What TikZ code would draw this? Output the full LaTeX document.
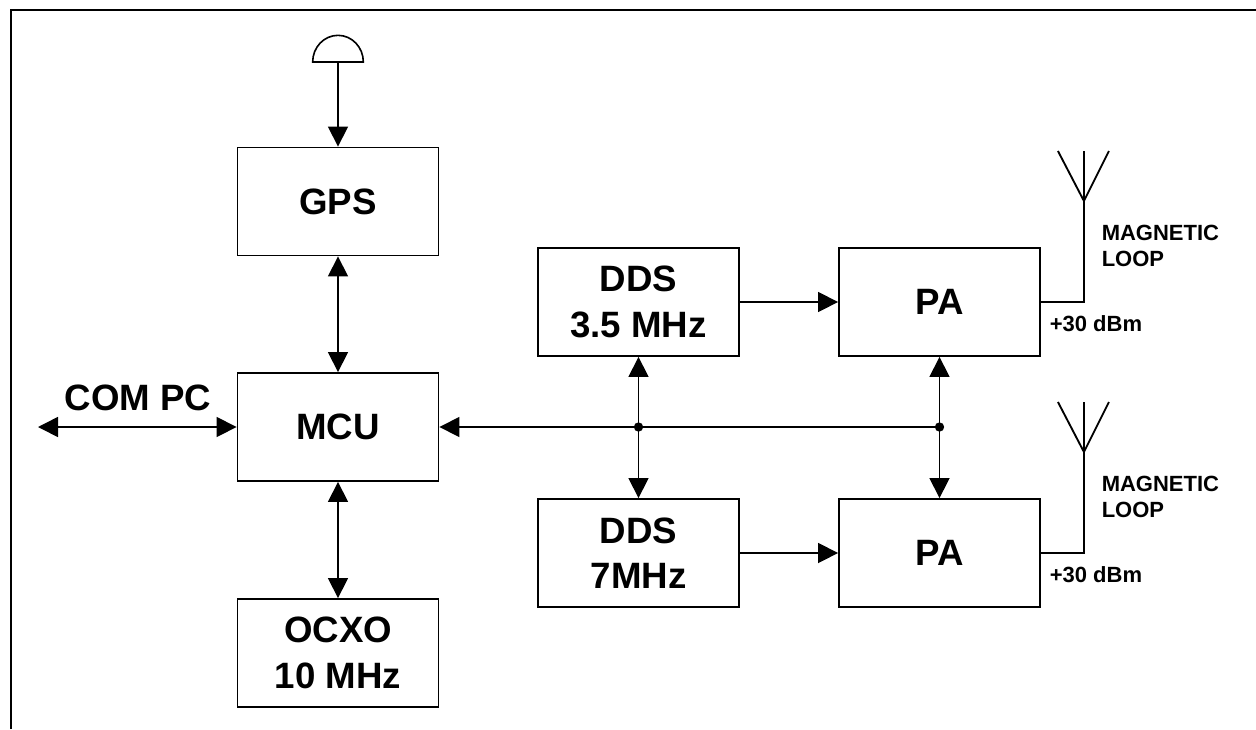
\documentclass[tikz,border=0pt]{standalone}
\usepackage{fontspec}
\setmainfont{Liberation Sans}
\usetikzlibrary{arrows.meta,positioning,calc}
\newcommand{\blockfont}{\fontsize{27.5}{34}\selectfont\bfseries}
\newcommand{\notefont}{\fontsize{16.5}{20}\selectfont\bfseries}

\begin{document}
\begin{tikzpicture}[x=0.75pt, y=-0.75pt,
    block/.style={rectangle, draw, line width=1.4pt, minimum width=150.75pt, minimum height=81pt, align=center, font=\blockfont},
    link/.style={line width=1.2pt, -{Triangle[length=15pt,width=15pt]}},
    biglink/.style={line width=1.2pt, {Triangle[length=15pt,width=15pt]}-{Triangle[length=15pt,width=15pt]}},
    note/.style={font=\notefont, align=left, anchor=west, inner sep=0pt},
    dot/.style={circle, fill, inner sep=0pt, minimum size=7pt}
]
    \useasboundingbox (0,0) rectangle (1256,729);

    % Frame
    \draw[line width=1.5pt] (11,729) -- (11,10) -- (1256,10);

    % Blocks
    \node[block] (GPS) at (338,201.5) {GPS};
    \node[block] (MCU) at (338,427) {MCU};
    \node[block] (OCXO) at (338,653) {OCXO\\10 MHz};
    \node[block] (DDS1) at (638.5,302) {DDS\\3.5 MHz};
    \node[block] (DDS2) at (638.5,553) {DDS\\7MHz};
    \node[block] (PA1) at (939.5,302) {PA};
    \node[block] (PA2) at (939.5,553) {PA};

    % GPS antenna
    \coordinate (gpsant) at (338,62);
    \draw[line width=1.2pt] ([xshift=-19pt]gpsant) arc[start angle=180, end angle=0, x radius=19pt, y radius=20pt] -- cycle;
    \draw[link] (gpsant) -- (GPS);

    % MCU links
    \draw[biglink] (GPS) -- (MCU);
    \draw[biglink] (MCU) -- (OCXO);
    \coordinate (com) at (38,427);
    \draw[biglink] (com) -- (MCU);
    \node[font=\blockfont] (compc) at (138,398) {COM PC};

    % Bus
    \coordinate (J1) at (DDS1 |- MCU);
    \coordinate (J2) at (PA1 |- MCU);
    \draw[link] (J2) -- (MCU);
    \draw[link] (J1) -- (DDS1);
    \draw[link] (J1) -- (DDS2);
    \draw[link] (J2) -- (PA1);
    \draw[link] (J2) -- (PA2);
    \node[dot] (dot1) at (J1) {};
    \node[dot] (dot2) at (J2) {};

    % DDS to PA
    \draw[link] (DDS1) -- (PA1);
    \draw[link] (DDS2) -- (PA2);

    % Antennas
    \foreach \p in {PA1,PA2} {
        \draw[line width=1.4pt] (\p.east) -- ++(43,0) coordinate (\p-ant) -- ++(0,-151);
        \draw[line width=1.4pt] ($(\p-ant)+(-26,-151)$) -- ($(\p-ant)+(0,-101)$) -- ($(\p-ant)+(25,-151)$);
        \node[note] (\p-loop) at ($(\p)+(162,-56)$) {MAGNETIC\\LOOP};
        \node[note] (\p-pow) at ($(\p)+(110,21.5)$) {+30 dBm};
    }
\end{tikzpicture}
\end{document}
